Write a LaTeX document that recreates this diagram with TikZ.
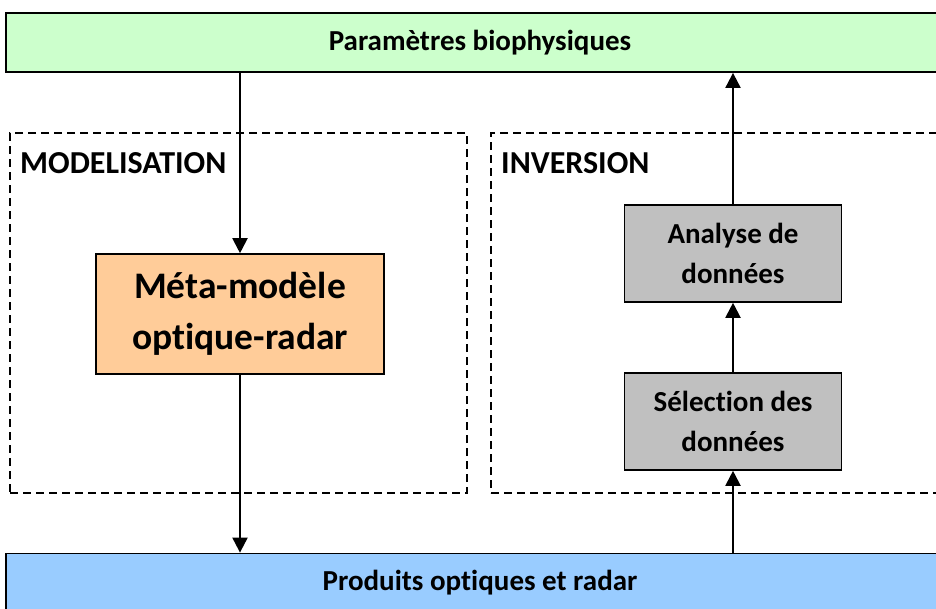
\documentclass[tikz,border=0pt]{standalone}
\usepackage{fontspec}
\setmainfont{Carlito}[Ligatures=NoCommon]
\usetikzlibrary{arrows.meta}
\definecolor{topgreen}{HTML}{CCFFCC}
\definecolor{botblue}{HTML}{99CCFF}
\definecolor{orangebox}{HTML}{FFCC99}
\definecolor{greybox}{HTML}{C0C0C0}
\begin{document}
\begin{tikzpicture}[x=1pt,y=-1pt,
  bar/.style={draw=black, line width=1.8pt, minimum width=948pt, minimum height=59pt, inner sep=0pt, font=\bfseries\fontsize{29}{40}\selectfont},
  dashbox/.style={draw=black, line width=1.4pt, dash pattern=on 8pt off 5pt, inner sep=0pt},
  procbox/.style={draw=black, line width=1.6pt, inner sep=0pt, align=center, font=\bfseries\fontsize{29}{40}\selectfont},
  title/.style={anchor=base west, inner sep=0pt, font=\bfseries\fontsize{32}{38}\selectfont},
  flow/.style={line width=2pt, -{Triangle[width=15pt,length=15pt]}}
]
\useasboundingbox (0,0) rectangle (936,608);
% dashed containers
\node[dashbox, minimum width=457pt, minimum height=360pt] (modbox) at (238.5,313) {};
\node[dashbox, minimum width=459pt, minimum height=360pt] (invbox) at (720.5,313) {};
\node[title] (modtitle) at (20,173) {MODELISATION};
\node[title] (invtitle) at (501,173) {INVERSION};
% bars
\node[bar, fill=topgreen] (top) at (480,42.5) {Paramètres biophysiques};
\node[bar, fill=botblue] (bot) at (480,583) {Produits optiques et radar};
% process boxes
\node[procbox, fill=orangebox, minimum width=288pt, minimum height=120pt, font=\bfseries\fontsize{37.5}{51}\selectfont] (meta) at (240,314) {Méta-modèle\\optique-radar};
\node[procbox, fill=greybox, minimum width=217pt, minimum height=97pt] (ana) at (733,253.5) {Analyse de\\données};
\node[procbox, fill=greybox, minimum width=217pt, minimum height=97pt] (sel) at (733,421.5) {Sélection des\\données};
% connectors
\draw[flow] (meta.north |- top.south) -- (meta.north);
\draw[flow] (meta.south) -- (meta.south |- bot.north);
\draw[flow] (sel.south |- bot.north) -- (sel.south);
\draw[flow] (sel.north) -- (ana.south);
\draw[flow] (ana.north) -- (ana.north |- top.south);
\end{tikzpicture}
\end{document}
